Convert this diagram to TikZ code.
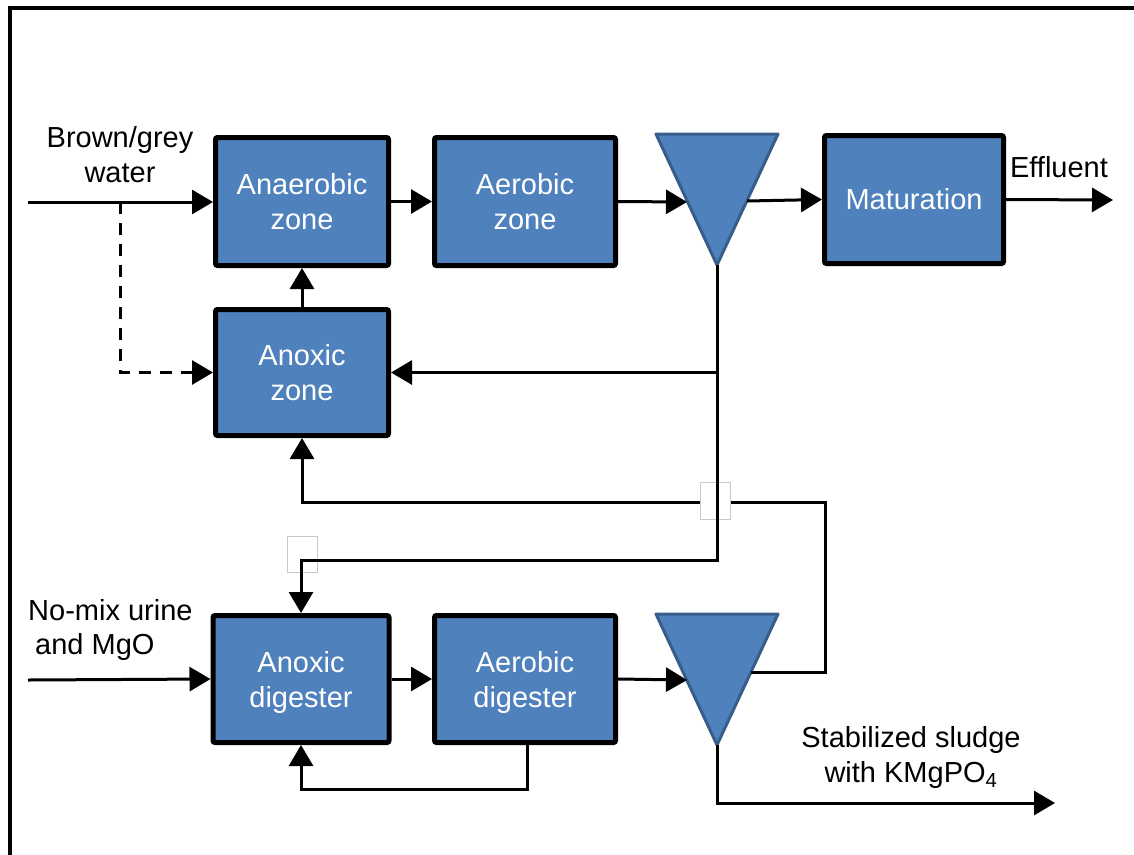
\documentclass[tikz,border=0pt]{standalone}
\usepackage{fontspec}
\setmainfont{Liberation Sans}
\usetikzlibrary{arrows.meta}
\definecolor{unitblue}{HTML}{4F81BD}
\definecolor{unitedge}{HTML}{385D8A}
\definecolor{jumpgrey}{HTML}{C8C8C8}
\begin{document}
\begin{tikzpicture}[x=1pt,y=-1pt,
  unit/.style={rectangle, fill=unitblue, draw=black, line width=5pt,
    rounded corners=2pt, text=white, align=center, inner sep=0pt,
    font=\fontsize{29}{35}\selectfont},
  flow/.style={line width=3pt, -{Triangle[length=21pt,width=24pt]}},
  plain/.style={line width=3pt},
  lbl/.style={align=center, inner sep=0pt, font=\fontsize{29}{35}\selectfont},
  clarifier/.style={fill=unitblue, draw=unitedge, line width=3pt, line join=round},
  jump/.style={draw=jumpgrey, fill=white, line width=1pt}
]
\useasboundingbox (0,0) rectangle (1134,854);

% frame
\draw[line width=4pt] (10,856) -- (10,8) -- (1136,8);

% process units
\node[unit, minimum width=173pt, minimum height=128pt] (anaer) at (302,201.5) {Anaerobic\\zone};
\node[unit, minimum width=181pt, minimum height=128pt] (aer) at (525,201.5) {Aerobic\\zone};
\node[unit, minimum width=173pt, minimum height=126pt] (anox) at (302,372.5) {Anoxic\\zone};
\node[unit, minimum width=179pt, minimum height=128pt] (mat) at (914,199.5) {Maturation};
\node[unit, minimum width=176pt, minimum height=127pt, text depth=0pt] (anoxd) at (301,679) {Anoxic\\digester};
\node[unit, minimum width=181pt, minimum height=127pt, text depth=0pt] (aerd) at (525,679) {Aerobic\\digester};

% clarifiers
\draw[clarifier] (656,134) -- (778,134) -- (717,265) -- cycle;
\coordinate (c1in) at (687,202);
\coordinate (c1out) at (747,201);
\coordinate (c1tip) at (717,265);
\draw[clarifier] (656,614) -- (778,614) -- (717,745) -- cycle;
\coordinate (c2in) at (687,680);
\coordinate (c2side) at (751,672);
\coordinate (c2tip) at (717,745);

% free ends and turning points
\coordinate (bgin) at (28,202);
\coordinate (split) at (120,202);
\coordinate (effout) at (1113,200);
\coordinate (wasturn) at (717,560);
\coordinate (nitr) at (825,502);
\coordinate (urin) at (28,680);
\coordinate (retturn) at (527,789);
\coordinate (sludge) at (1055,803);

% main line
\draw[flow] (bgin) -- (bgin -| anaer.west);
\draw[flow, dash pattern=on 12pt off 9pt] (split) -- (split |- anox.west) -- (anox.west);
\draw[flow] (anaer.east) -- (aer.west);
\draw[flow] (aer.east) -- (c1in);
\draw[flow] (c1out) -- (mat.west);
\draw[flow] (mat.east) -- (effout);
\draw[flow] (anox.north) -- (anaer.south);

% nitrified liquor from the urine clarifier
\draw[flow] (c2side) -- (c2side -| nitr) -- (nitr) -- (nitr -| anox.south) -- (anox.south);
\node[jump, minimum width=30pt, minimum height=37pt, inner sep=0pt] (jmpA) at (715,500.5) {};
\node[jump, minimum width=30pt, minimum height=36pt, inner sep=0pt] (jmpB) at (302,554) {};

% sludge recycle and wasting
\draw[flow] (c1tip) -- (c1tip |- anox.east) -- (anox.east);
\draw[flow] (c1tip) -- (wasturn) -- (wasturn -| anoxd.north) -- (anoxd.north);

% urine line
\draw[flow] (urin) -- (anoxd.west);
\draw[flow] (anoxd.east) -- (aerd.west);
\draw[flow] (aerd.east) -- (c2in);
\draw[flow] (aerd.south -| retturn) -- (retturn) -- (retturn -| anoxd.south) -- (anoxd.south);
\draw[flow] (c2tip) -- (c2tip |- sludge) -- (sludge);

% labels
\node[lbl] (lbg) at (120,155) {Brown/grey\\water};
\node[lbl] (leff) at (1059,167) {Effluent};
\node[lbl, align=left, anchor=west, font=\fontsize{29}{34}\selectfont] (lur) at (28,630) {No-mix urine\\\hspace*{7pt}and MgO};
\node[lbl] (lsl) at (911,757) {Stabilized sludge\\with KMgPO\textsubscript{4}};
\end{tikzpicture}
\end{document}
